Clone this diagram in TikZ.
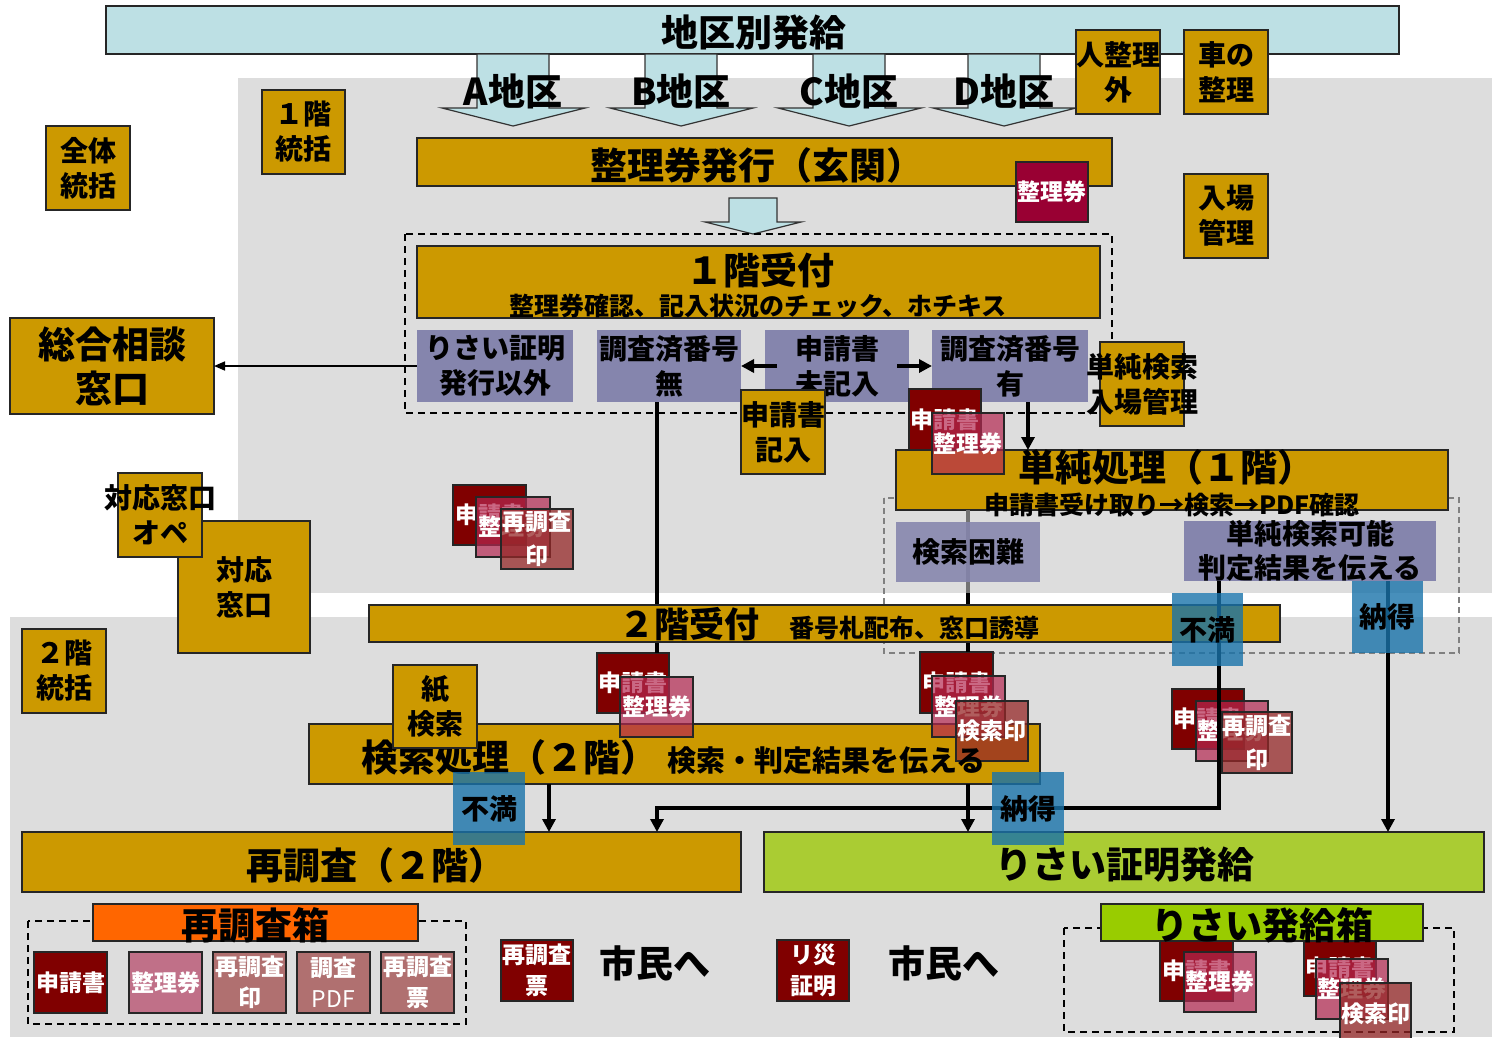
\documentclass[tikz,border=0pt]{standalone}
\usepackage{fontspec}
\setmainfont{Noto Sans CJK JP}
\usetikzlibrary{arrows.meta,calc}
\definecolor{gold}{RGB}{204,153,0}
\definecolor{lblue}{RGB}{189,224,228}
\definecolor{bggray}{RGB}{221,221,221}
\definecolor{purp}{RGB}{133,133,173}
\definecolor{dred}{RGB}{128,0,0}
\definecolor{tred}{RGB}{153,0,51}
\definecolor{pinkT}{RGB}{180,40,80}
\definecolor{brT}{RGB}{150,40,40}
\definecolor{pinkO}{RGB}{192,112,136}
\definecolor{rosy}{RGB}{176,112,112}
\definecolor{bluish}{RGB}{25,115,170}
\definecolor{lgreen}{RGB}{170,204,51}
\definecolor{ygreen}{RGB}{153,204,0}
\definecolor{orng}{RGB}{255,102,0}
\newcommand\fs[2]{\bfseries\fontsize{#1}{#2}\selectfont}
\newcommand\bx[8]{\node[#1, minimum width={(#5-#3)*1pt}, minimum height={(#6-#4)*1pt}, label={[lab,#7]center:{#8}}] (#2) at ({(#3+#5)/2},{(#4+#6)/2}) {};}
\newcommand\darrow[1]{\draw[ashape] (#1,54) -- (#1,108) -- ({#1-35},108) -- ({#1+36},126) -- ({#1+108},108) -- ({#1+72},108) -- ({#1+72},54) -- cycle;}
\begin{document}
\begin{tikzpicture}[x=1pt,y=-1pt,
 base/.style={inner sep=0pt, outer sep=0pt, line width=1.3pt, draw=black!85},
 gbox/.style={base, fill=gold},
 lbbox/.style={base, fill=lblue},
 pbox/.style={inner sep=0pt, outer sep=0pt, fill=purp},
 pboxt/.style={inner sep=0pt, outer sep=0pt, fill=purp, fill opacity=0.88},
 dbox/.style={base, fill=dred},
 tbox/.style={base, fill=tred},
 pkbox/.style={base, fill=pinkT, fill opacity=0.7},
 thbox/.style={base, fill=brT, fill opacity=0.75},
 pkop/.style={base, fill=pinkO},
 rsbox/.style={base, fill=rosy},
 blbox/.style={inner sep=0pt, outer sep=0pt, fill=bluish, fill opacity=0.8},
 grbox/.style={base, fill=lgreen},
 ygbox/.style={base, fill=ygreen},
 orbox/.style={base, fill=orng},
 lab/.style={align=center, inner sep=0pt, text opacity=1},
 w/.style={text=white},
 t37/.style={font=\fs{37}{44}},
 t28/.style={font=\fs{28}{35}},
 t23/.style={font=\fs{23}{31}},
 tx/.style={inner sep=0pt, align=center},
 ashape/.style={draw=black!80, line width=1.2pt, fill=lblue},
 thk/.style={line width=3.5pt},
 thkarr/.style={line width=3.5pt, -{Triangle[length=13pt,width=13pt]}},
 thinarr/.style={line width=1.6pt, -{Triangle[length=11pt,width=9pt]}},
 dsh/.style={dash pattern=on 7pt off 5pt, line width=1.5pt},
]
\useasboundingbox (0,0) rectangle (1492,1037);
\fill[white] (0,0) rectangle (1492,1037);
\fill[bggray] (238,78) rectangle (1492,593);
\fill[bggray] (10,617) rectangle (1492,1037);

% ---- top bar and district arrows
\node[lbbox, minimum width=1293pt, minimum height=48pt] (bar) at (752.5,30) {};
\node[tx,t37] (bart) at (754,33) {地区別発給};
\darrow{477}\darrow{645}\darrow{813}\darrow{968}
\node[tx,t37] (lA) at (513,91) {A地区};
\node[tx,t37] (lB) at (681,91) {B地区};
\node[tx,t37] (lC) at (849,91) {C地区};
\node[tx,t37] (lD) at (1004,91) {D地区};
\bx{gbox}{hito}{1076}{30}{1160}{114}{t28}{人整理\\外}
\bx{gbox}{kuruma}{1184}{30}{1268}{114}{t28}{車の\\整理}
\bx{gbox}{nyujo}{1184}{174}{1268}{258}{t28}{入場\\管理}
\bx{gbox}{f1}{262}{90}{345}{174}{t28}{１階\\統括}
\bx{gbox}{zentai}{46}{126}{130}{210}{t28}{全体\\統括}

% ---- ticket issue
\bx{gbox}{seiri}{417}{138}{1112}{186}{}{}
\node[tx,t37] (seirit) at (757,165) {整理券発行（玄関）};
\bx{tbox}{ticket}{1016}{162}{1088}{222}{t23,w}{整理券}
\draw[ashape] (729,198) -- (729,222) -- (705,222) -- (753,234) -- (801,222) -- (777,222) -- (777,198) -- cycle;

% ---- 1F reception
\draw[dsh] (405,234) rectangle (1112,413);
\bx{gbox}{r1}{417}{246}{1100}{318}{}{}
\node[tx,t37] (r1t) at (760,270) {１階受付};
\node[tx,font=\fs{25}{30}] (r1s) at (758,306) {整理券確認、記入状況のチェック、ホチキス};
\bx{pbox}{risai}{417}{330}{573}{402}{t28}{りさい証明\\発行以外}
\bx{pbox}{nashi}{597}{330}{741}{402}{t28}{調査済番号\\無}
\bx{pbox}{mikinyu}{765}{330}{909}{402}{t28}{申請書\\未記入}
\bx{pbox}{ari}{932}{330}{1088}{402}{t28}{調査済番号\\有}
\bx{gbox}{sogo}{10}{318}{214}{414}{font=\fs{37}{44}}{総合相談\\窓口}
\draw[thinarr] (risai.west) -- (sogo.east);
\draw[thkarr] ([xshift=12pt]mikinyu.west) -- (nashi.east);
\draw[thkarr] ([xshift=-12pt]mikinyu.east) -- (ari.west);
\bx{gbox}{kinyu}{741}{390}{825}{474}{t28}{申請書\\記入}
\bx{gbox}{tkanri}{1100}{342}{1184}{426}{t28}{単純検索\\入場管理}

% ---- left side
\bx{gbox}{taio}{178}{521}{310}{653}{t28}{対応\\窓口}
\bx{gbox}{oper}{118}{473}{202}{557}{t28}{対応窓口\\オペ}
\bx{gbox}{f2}{22}{629}{106}{713}{t28}{２階\\統括}

% ---- simple processing 1F
\draw[dash pattern=on 6pt off 4pt, line width=1.2pt, black!50] (884,498) rectangle (1459,653);
\bx{dbox}{sA1}{909}{389}{981}{450}{t23,w}{申請書}
\bx{gbox}{tanjun}{896}{450}{1448}{510}{}{}
\draw[thkarr] ([xshift=18pt]ari.south) -- ([xshift=-144pt]tanjun.north);
\bx{pkbox}{sA2}{932}{413}{1004}{474}{t23,w}{整理券}
\node[tx,t37] (tanjunt) at (1166,467) {単純処理（１階）};
\node[tx,font=\fs{25}{30}] (tanjuns) at (1172,505) {申請書受け取り→検索→PDF確認};

% lines behind 2F reception
\coordinate (gapA) at (968,593);
\draw[thk, black!55] ([xshift=-204pt]tanjun.south) -- (gapA);
\bx{dbox}{sC1}{597}{653}{669}{713}{t23,w}{申請書}
\bx{dbox}{sD1}{920}{652}{993}{713}{t23,w}{申請書}
\draw[thk] (gapA) -- ([xshift=11.5pt]sD1.north);
\draw[thk] ([xshift=-12pt]nashi.south) -- ([xshift=24pt]sC1.north);
\bx{pboxt}{konnan}{896}{522}{1040}{582}{t28}{検索困難}
\bx{pbox}{kanou}{1184}{521}{1436}{581}{font=\fs{28}{34}}{単純検索可能\\判定結果を伝える}

% ---- 2F reception
\bx{gbox}{uke2}{369}{605}{1280}{642}{}{}
\node[tx, anchor=base west] (uke2t) at (619,637) {{\fs{35}{40}２階受付}\hspace{30pt}{\fs{25}{30}番号札配布、窓口誘導}};

% ---- search processing 2F
\bx{gbox}{kensaku2}{309}{724}{1040}{784}{}{}
\bx{pkbox}{sC2}{620}{677}{693}{737}{t23,w}{整理券}
\bx{pkbox}{sD2}{932}{676}{1005}{737}{t23,w}{整理券}
\bx{thbox}{sD3}{956}{701}{1028}{761}{t23,w}{検索印}
\node[tx, anchor=base west] (kensaku2t) at (361,771) {{\fs{37}{40}検索処理（２階）}\hspace{10pt}{\fs{29}{34}検索・判定結果を伝える}};
\bx{gbox}{kami}{393}{665}{477}{748}{t28}{紙\\検索}

% right stack
\bx{dbox}{sE1}{1172}{689}{1244}{749}{t23,w}{申請書}
\bx{pkbox}{sE2}{1196}{701}{1268}{761}{t23,w}{整理券}
\bx{thbox}{sE3}{1222}{712}{1292}{773}{font=\fs{23}{34},w}{再調査\\印}
% left 1F stack
\bx{dbox}{sB1}{453}{485}{526}{545}{t23,w}{申請書}
\bx{pkbox}{sB2}{476}{497}{550}{557}{t23,w}{整理券}
\bx{thbox}{sB3}{501}{509}{573}{569}{font=\fs{23}{34},w}{再調査\\印}

% ---- results
\bx{gbox}{saichosa}{22}{832}{741}{892}{}{}
\node[tx,t37] (saichosat) at (376,865) {再調査（２階）};
\bx{grbox}{hakkyu}{764}{832}{1484}{892}{}{}
\node[tx,t37] (hakkyut) at (1125,865) {りさい証明発給};
\draw[thkarr] ([xshift=293.5pt]kensaku2.south) -- ([xshift=-156pt]hakkyu.north);
\draw[thkarr] ([xshift=-125.5pt]kensaku2.south) -- ([xshift=167.5pt]saichosa.north);
\draw[thkarr] ([xshift=-91pt]kanou.south) |- ([xshift=275.5pt,yshift=24pt]saichosa.north) -- ([xshift=275.5pt]saichosa.north);
\draw[thkarr] ([xshift=78pt]kanou.south) -- ([xshift=264pt]hakkyu.north);

\bx{blbox}{fuman1}{1172}{593}{1243}{666}{t28}{不満}
\bx{blbox}{nattoku1}{1352}{581}{1423}{653}{t28}{納得}
\bx{blbox}{fuman2}{453}{772}{525}{845}{t28}{不満}
\bx{blbox}{nattoku2}{992}{772}{1064}{845}{t28}{納得}

% ---- bottom: re-investigation box
\draw[dsh] (28,921) rectangle (466,1024);
\bx{orbox}{bako1}{93}{904}{418}{941}{}{}
\node[tx,t37] (bako1t) at (255,925) {再調査箱};
\bx{dbox}{b1}{34}{952}{107}{1013}{t23,w}{申請書}
\bx{pkop}{b2}{129}{952}{202}{1013}{t23,w}{整理券}
\bx{rsbox}{b3}{213}{952}{286}{1013}{t23,w}{再調査\\印}
\bx{rsbox}{b4}{297}{952}{370}{1013}{t23,w}{調査\\{\mdseries PDF}}
\bx{rsbox}{b5}{381}{952}{454}{1013}{t23,w}{再調査\\票}
\bx{dbox}{hyo}{501}{940}{573}{1001}{t23,w}{再調査\\票}
\node[tx,t37] (shimin1) at (655,963) {市民へ};
\bx{dbox}{rsai}{777}{940}{849}{1001}{t23,w}{リ災\\証明}
\node[tx,t37] (shimin2) at (944,963) {市民へ};

% ---- bottom: issue box
\draw[dsh] (1064,928) rectangle (1454,1032);
\bx{dbox}{c1}{1160}{940}{1233}{1001}{t23,w}{申請書}
\bx{dbox}{c3}{1304}{940}{1376}{996}{t23,w}{申請書}
\bx{ygbox}{bako2}{1101}{904}{1423}{941}{}{}
\node[tx,t37] (bako2t) at (1262,925) {りさい発給箱};
\bx{pkbox}{c2}{1184}{952}{1256}{1012}{t23,w}{整理券}
\bx{pkbox}{c4}{1316}{959}{1388}{1019}{t23,w}{整理券}
\bx{thbox}{c5}{1340}{983}{1411}{1044}{t23,w}{検索印}
\end{tikzpicture}
\end{document}
